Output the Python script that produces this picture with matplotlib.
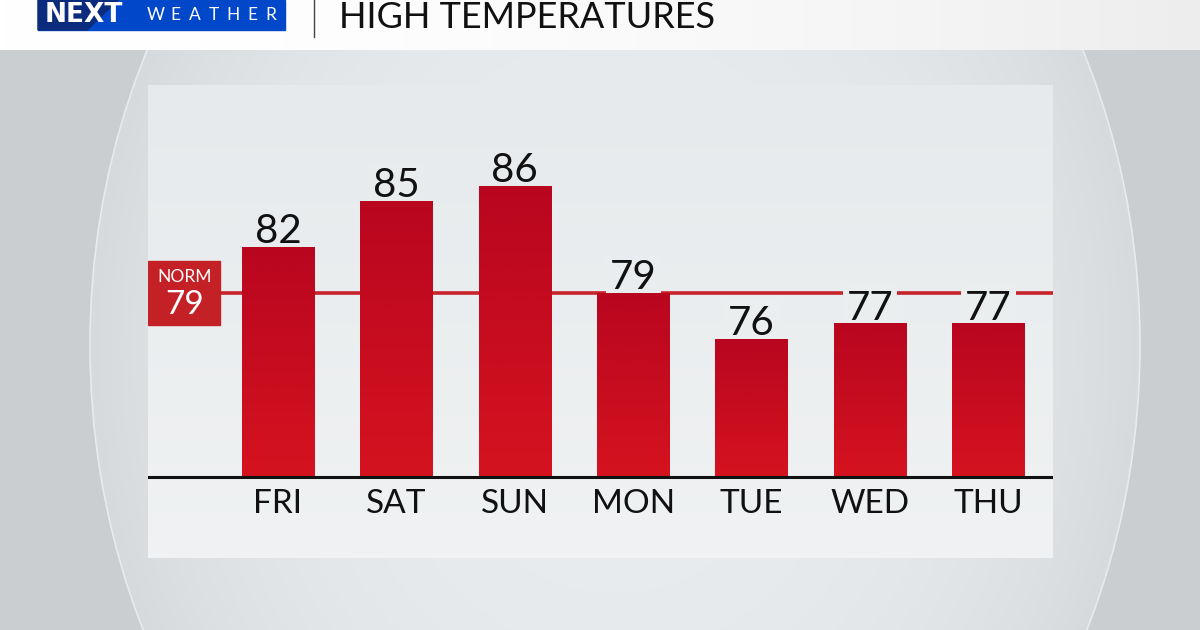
import numpy as np
import matplotlib
matplotlib.use("Agg")
import matplotlib.pyplot as plt
from matplotlib.patches import Rectangle, Polygon, Ellipse
from matplotlib.colors import LinearSegmentedColormap, to_rgb
import matplotlib.transforms as mtransforms

# Data
days = ['FRI', 'SAT', 'SUN', 'MON', 'TUE', 'WED', 'THU']
highs = [82, 85, 86, 79, 76, 77, 77]
normal_high = 79
title = 'HIGH TEMPERATURES'

plt.rcParams['font.family'] = ['Lato', 'DejaVu Sans']

W, H = 1200, 630
fig = plt.figure(figsize=(12, 6.3), dpi=100)

# Background layer in pixel coordinates
bg = fig.add_axes([0, 0, 1, 1], zorder=0)
bg.axis('off')

yy, xx = np.mgrid[0:H, 0:W]
d = ((xx - 615) / 525.0) ** 2 + ((yy - 345) / 650.0) ** 2
inner_c = np.array(to_rgb('#e9ecee'))
edge_c = np.array(to_rgb('#d6dadc'))
outer_c = np.array(to_rgb('#caced0'))
t = np.clip(d, 0, 1)[..., None] ** 1.5
img = inner_c * (1 - t) + edge_c * t
img = np.where((d > 1)[..., None], outer_c, img)
bg.imshow(img, extent=[0, W, H, 0], aspect='auto', zorder=0)
bg.add_patch(Ellipse((615, 345), 1050, 1300, fill=False, ec='#e8ebec', lw=1.2, zorder=1))

# header band, white fading to light grey on the right
hdr = np.linspace(0, 1, 300)
hdr_img = np.ones((2, 300, 3)) * (1 - 0.07 * hdr[None, :, None] ** 2)
bg.imshow(hdr_img, extent=[0, W, 50, 0], aspect='auto', zorder=2)
bg.set_xlim(0, W)
bg.set_ylim(H, 0)

# logo
bg.add_patch(Rectangle((38, 0), 247, 30, color='#0047c9', zorder=3))
bg.add_patch(Polygon([(38, 0), (118, 0), (87, 30), (38, 30)], color='#0b2c7d', zorder=3))
bg.text(45, 15.5, 'NEXT', color='white', fontsize=19, fontweight='bold',
        family='DejaVu Sans', va='center', ha='left', zorder=4)
for k, ch in enumerate('WEATHER'):
    bg.text(156 + k * 19.2, 15.5, ch, color='white', fontsize=12.5,
            va='center', ha='center', zorder=4)
bg.plot([314, 314], [0, 37], color='#444444', lw=1, zorder=4)
bg.text(339, 28, title, color='#111111', fontsize=26, va='baseline', ha='left', zorder=4)

# Chart panel
ax = fig.add_axes([148 / W, 72 / H, 905 / W, 473 / H], zorder=1)
for s in ax.spines.values():
    s.set_visible(False)
ax.set_xticks([])
ax.set_yticks([])

panel_top = np.array(to_rgb('#e6eaec'))
panel_bot = np.array(to_rgb('#f0f2f3'))
fr = np.linspace(0, 1, 100)[:, None, None] * np.ones((1, 100, 1))
panel_img = panel_bot * (1 - fr) + panel_top * fr
ax.imshow(panel_img, origin='lower', extent=[0, 1, 0, 1], transform=ax.transAxes,
          aspect='auto', zorder=0)

ymin, ymax = 61.7, 92.6
base = 67
bar_w = 0.61
bar_cmap = LinearSegmentedColormap.from_list('bar', ['#d5131f', '#b9061f'])
grad = np.linspace(0, 1, 256)[:, None]
x = np.arange(len(days))
for xi, v in zip(x, highs):
    ax.imshow(grad, cmap=bar_cmap, origin='lower',
              extent=[xi - bar_w / 2, xi + bar_w / 2, base, v],
              aspect='auto', zorder=3)
    f = (v + 1.2 - ymin) / (ymax - ymin)
    box_c = panel_bot * (1 - f) + panel_top * f
    ax.annotate(str(v), (xi, v), xytext=(0, 3), textcoords='offset points',
                ha='center', va='baseline', fontsize=29, color='#111111',
                zorder=2.5,
                bbox=dict(boxstyle='square,pad=0.1', fc=box_c, ec='none'))

for xi, day in zip(x, days):
    ax.annotate(day, (xi, base), xytext=(0, -9), textcoords='offset points',
                ha='center', va='top', fontsize=24, color='#111111')

# baseline and normal line
ax.axhline(base, color='#111111', lw=2.2, zorder=4)
ax.axhline(normal_high, xmin=0.08, xmax=1, color='#c8232b', lw=2.6, zorder=2)

trans = mtransforms.blended_transform_factory(ax.transAxes, ax.transData)
ax.add_patch(Rectangle((0, normal_high - 2.1), 0.0795, 4.2, transform=trans,
                       color='#c42127', zorder=5))
ax.text(0.04, normal_high + 1.05, 'NORM', transform=trans, color='white',
        fontsize=12.5, ha='center', va='center', zorder=6)
ax.text(0.04, normal_high - 0.8, str(normal_high), transform=trans, color='white',
        fontsize=24, ha='center', va='center', zorder=6)

ax.set_xlim(-1.098, 6.546)
ax.set_ylim(ymin, ymax)

fig.savefig('out.png', dpi=100)
